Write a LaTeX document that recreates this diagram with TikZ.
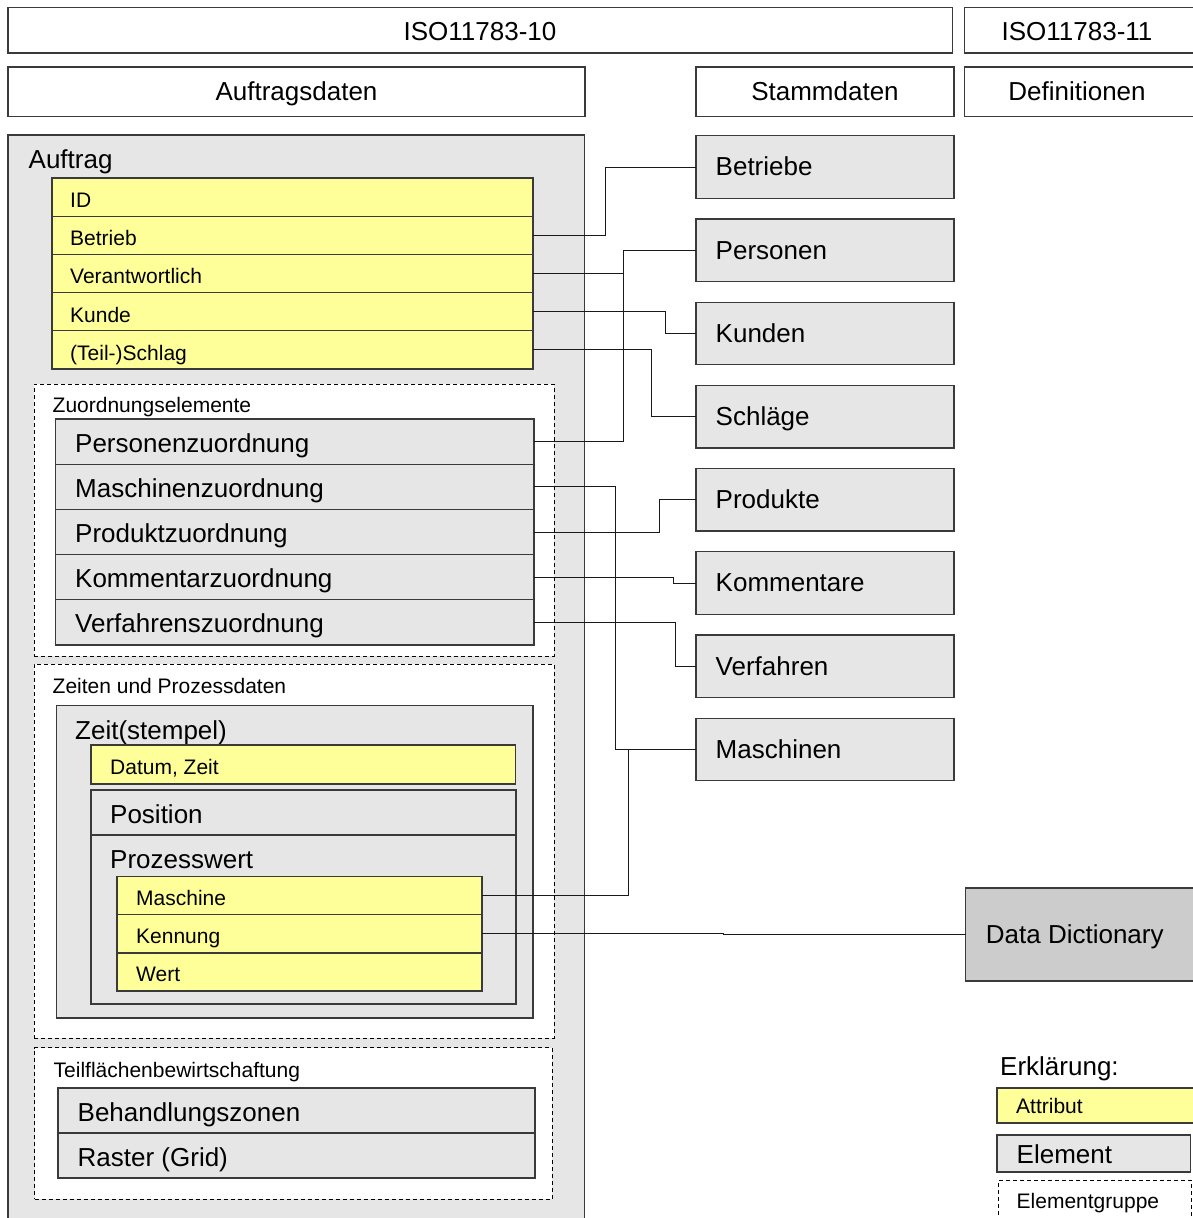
\documentclass[tikz,border=0pt]{standalone}
\usepackage{fontspec}
\setmainfont{Liberation Sans}
\definecolor{bordc}{HTML}{3A3A3A}
\definecolor{greyc}{HTML}{E6E6E6}
\definecolor{yelc}{HTML}{FFFF99}
\definecolor{ddc}{HTML}{CCCCCC}
\newcommand{\fbig}{\fontsize{26}{30}\selectfont}
\newcommand{\fsmall}{\fontsize{21}{25}\selectfont}
\newcommand{\bx}[6]{\node[#1, minimum width=#5, minimum height=#6, anchor=north west] (#2) at (#3,#4) {};}
\newcommand{\tx}[5]{\node[#1, anchor=base west, inner sep=0pt] (#2) at (#3,#4) {#5};}
\newcommand{\tc}[5]{\node[#1, anchor=base, inner sep=0pt] (#2) at (#3,#4) {#5};}
\begin{document}
\begin{tikzpicture}[x=1pt,y=-1pt,
  boxbase/.style={rectangle, inner sep=0pt, outer sep=0pt, line width=1.3pt},
  hdr/.style={boxbase, draw=bordc, fill=white},
  elem/.style={boxbase, draw=bordc, fill=greyc},
  attr/.style={boxbase, draw=bordc, fill=yelc},
  ddbox/.style={boxbase, draw=bordc, fill=ddc},
  grp/.style={boxbase, draw=black, fill=white, line width=0.9pt, dash pattern=on 4pt off 3pt},
  big/.style={font=\fbig},
  small/.style={font=\fsmall},
  conn/.style={draw=black!90, line width=1pt}]
\useasboundingbox (0,0) rectangle (1192,1218);

% headers
\bx{hdr}{hiso10}{8}{7.5}{944.5}{45.5}
\bx{hdr}{hiso11}{964.5}{7.5}{240}{45.5}
\bx{hdr}{hauftr}{8}{67}{577}{49.5}
\bx{hdr}{hstamm}{696}{67}{258}{49.5}
\bx{hdr}{hdefs}{964.5}{67}{240}{49.5}
\tc{big}{thiso10}{480}{40.7}{ISO11783-10}
\tc{big}{thiso11}{1077}{40.7}{ISO11783-11}
\tc{big}{thauftr}{296.5}{100}{Auftragsdaten}
\tc{big}{thstamm}{825}{100}{Stammdaten}
\tc{big}{thdefs}{1077}{100}{Definitionen}

% Auftrag
\bx{elem}{auftrag}{8}{135}{576.5}{1100}
\tx{big}{tauftrag}{28.5}{168}{Auftrag}

% attributes
\bx{attr}{aid}{52}{178}{481}{38.2}
\bx{attr}{abetrieb}{52}{216.2}{481}{38.2}
\bx{attr}{averant}{52}{254.4}{481}{38.2}
\bx{attr}{akunde}{52}{292.6}{481}{38.2}
\bx{attr}{aschlag}{52}{330.8}{481}{38.2}
\tx{small}{taid}{70}{207.4}{ID}
\tx{small}{tabetrieb}{70}{245.6}{Betrieb}
\tx{small}{taverant}{70}{283.8}{Verantwortlich}
\tx{small}{takunde}{70}{322}{Kunde}
\tx{small}{taschlag}{70}{360.2}{(Teil-)Schlag}

% Zuordnungselemente
\bx{grp}{gzuord}{34}{384}{520}{272}
\tx{small}{tgzuord}{52.5}{412}{Zuordnungselemente}
\bx{elem}{epers}{55.5}{419}{478.5}{45.2}
\bx{elem}{emasch}{55.5}{464.2}{478.5}{45.2}
\bx{elem}{eprod}{55.5}{509.4}{478.5}{45.2}
\bx{elem}{ekomm}{55.5}{554.6}{478.5}{45.2}
\bx{elem}{everf}{55.5}{599.8}{478.5}{45.2}
\tx{big}{tepers}{75}{452}{Personenzuordnung}
\tx{big}{temasch}{75}{497.2}{Maschinenzuordnung}
\tx{big}{teprod}{75}{542.4}{Produktzuordnung}
\tx{big}{tekomm}{75}{587.6}{Kommentarzuordnung}
\tx{big}{teverf}{75}{632.8}{Verfahrenszuordnung}

% Zeiten und Prozessdaten
\bx{grp}{gzeit}{34}{664}{520}{374}
\tx{small}{tgzeit}{52.5}{693.5}{Zeiten und Prozessdaten}
\bx{elem}{zzeit}{56.5}{705.5}{476.5}{312.5}
\tx{big}{tzzeit}{75}{739}{Zeit(stempel)}
\bx{attr}{zdatum}{91}{745}{424.5}{39}
\tx{small}{tzdatum}{110}{774}{Datum, Zeit}
\bx{elem}{zpos}{91}{790}{425}{45}
\tx{big}{tzpos}{110}{823}{Position}
\bx{elem}{zproz}{91}{835}{425}{169}
\tx{big}{tzproz}{110}{868}{Prozesswert}
\bx{attr}{pmasch}{117}{876.5}{365}{38.2}
\bx{attr}{pkenn}{117}{914.7}{365}{38.2}
\bx{attr}{pwert}{117}{952.9}{365}{38.2}
\tx{small}{tpmasch}{136}{905.5}{Maschine}
\tx{small}{tpkenn}{136}{943.7}{Kennung}
\tx{small}{tpwert}{136}{981.9}{Wert}

% Teilflaechenbewirtschaftung
\bx{grp}{gteil}{34.5}{1047.5}{517.5}{151.5}
\tx{small}{tgteil}{53.5}{1077}{Teilflächenbewirtschaftung}
\bx{elem}{tbeh}{58}{1088}{477}{45}
\bx{elem}{traster}{58}{1133}{477}{45}
\tx{big}{ttbeh}{77.5}{1121}{Behandlungszonen}
\tx{big}{ttraster}{77.5}{1166}{Raster (Grid)}

% Stammdaten
\bx{elem}{sbetriebe}{696}{135.8}{258}{62.5}
\bx{elem}{spersonen}{696}{219}{258}{62.5}
\bx{elem}{skunden}{696}{302.2}{258}{62.5}
\bx{elem}{sschlaege}{696}{385.4}{258}{62.5}
\bx{elem}{sprodukte}{696}{468.6}{258}{62.5}
\bx{elem}{skomm}{696}{551.8}{258}{62.5}
\bx{elem}{sverf}{696}{635}{258}{62.5}
\bx{elem}{smasch}{696}{718.2}{258}{62.5}
\tx{big}{tsbetriebe}{715.5}{175.8}{Betriebe}
\tx{big}{tspersonen}{715.5}{259}{Personen}
\tx{big}{tskunden}{715.5}{342.2}{Kunden}
\tx{big}{tsschlaege}{715.5}{425.4}{Schläge}
\tx{big}{tsprodukte}{715.5}{508.6}{Produkte}
\tx{big}{tskomm}{715.5}{591.8}{Kommentare}
\tx{big}{tsverf}{715.5}{675}{Verfahren}
\tx{big}{tsmasch}{715.5}{758.2}{Maschinen}

% Data Dictionary
\bx{ddbox}{dd}{965.5}{888}{240}{93}
\tx{big}{tdd}{985.7}{943}{Data Dictionary}

% Legend
\tx{big}{tlegend}{1000}{1075}{Erklärung:}
\bx{attr}{lattr}{997}{1088}{197}{35}
\tx{small}{tlattr}{1016}{1113}{Attribut}
\bx{elem}{lelem}{997}{1135}{193.5}{37}
\tx{big}{tlelem}{1016.5}{1163}{Element}
\bx{grp}{lgrp}{998.5}{1180}{192.5}{60}
\tx{small}{tlgrp}{1016.5}{1208}{Elementgruppe}

% connectors
\draw[conn] (abetrieb.east) -- ++(72,0) |- (sbetriebe.west);
\draw[conn] (averant.east) -- ++(90,0) |- (spersonen.west);
\draw[conn] (epers.east) -- ++(89,0) |- (spersonen.west);
\draw[conn] (akunde.east) -- ++(132,0) |- (skunden.west);
\draw[conn] (aschlag.east) -- ++(118,0) |- (sschlaege.west);
\draw[conn] (emasch.east) -- ++(81,0) |- (smasch.west);
\draw[conn] (eprod.east) -- ++(125,0) |- (sprodukte.west);
\draw[conn] (ekomm.east) -- ++(139,0) |- (skomm.west);
\draw[conn] (everf.east) -- ++(141,0) |- (sverf.west);
\draw[conn] (pmasch.east) -- ++(146,0) |- (smasch.west);
\draw[conn] (pkenn.east) -- ++(241,0) |- (dd.west);
\end{tikzpicture}
\end{document}
